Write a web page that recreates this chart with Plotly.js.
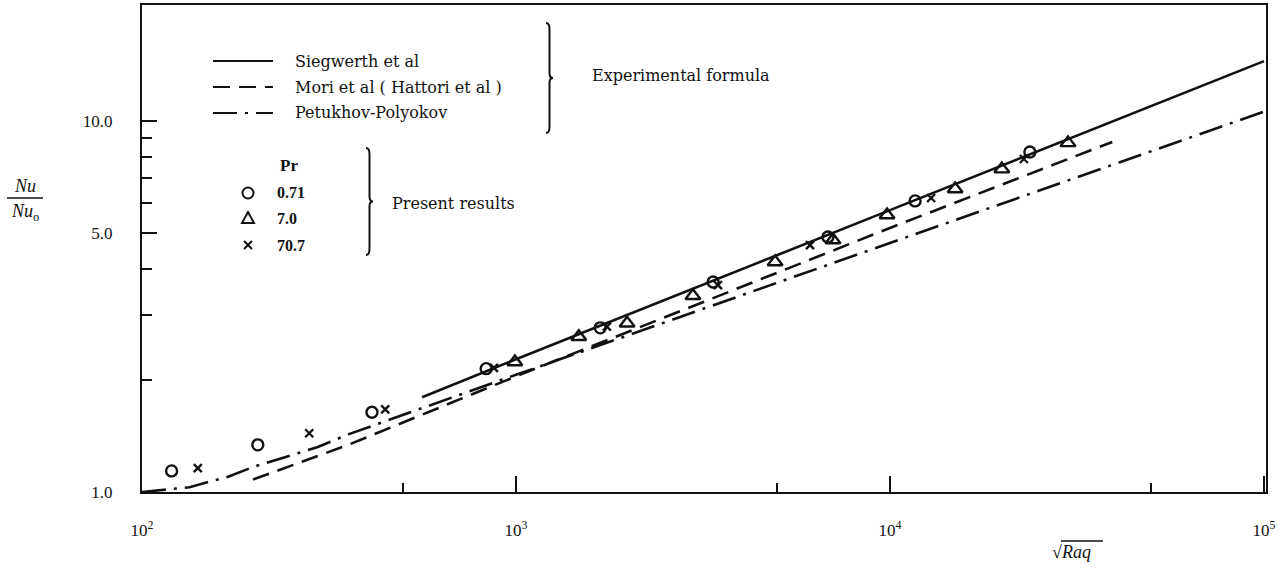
<!DOCTYPE html>
<html>
<head>
<meta charset="utf-8">
<script src="https://cdn.plot.ly/plotly-3.0.1.min.js"></script>
<style>html,body{margin:0;padding:0;background:#fff}#chart{width:1287px;height:568px}</style>
</head>
<body>
<div id="chart"></div>
<script>
// ---- data ----
const siegX = [561, 1000, 10000, 100000];
const siegY = [1.80, 2.28, 5.75, 14.5];
const moriX = [198, 356, 1000, 10000, 39300];
const moriY = [1.08, 1.34, 2.05, 5.15, 8.78];
const petX = [100, 119, 134, 147, 170, 198, 244, 294, 356, 1000, 10000, 100000];
const petY = [1.00, 1.02, 1.03, 1.057, 1.10, 1.168, 1.243, 1.32, 1.43, 2.07, 4.69, 10.6];
const pr071X = [120, 204, 412, 832, 1680, 3366, 6823, 11670, 23660];
const pr071Y = [1.14, 1.34, 1.64, 2.15, 2.77, 3.68, 4.87, 6.09, 8.25];
const pr7X = [993, 1472, 1982, 2972, 4930, 7040, 9820, 14930, 19910, 29920];
const pr7Y = [2.24, 2.62, 2.85, 3.38, 4.17, 4.78, 5.58, 6.56, 7.42, 8.73];
const pr707X = [141, 280, 447, 873, 1750, 3467, 6110, 12880, 22800];
const pr707Y = [1.16, 1.44, 1.67, 2.16, 2.79, 3.61, 4.63, 6.20, 7.90];

const lineNames = ['Siegwerth et al', 'Mori et al ( Hattori et al )', 'Petukhov-Polyokov'];
const prLabels = ['0.71', '7.0', '70.7'];
const xTickVals = [100, 1000, 10000, 100000];
const xTickText = ['10<sup>2</sup>', '10<sup>3</sup>', '10<sup>4</sup>', '10<sup>5</sup>'];
const yTickVals = [1, 5, 10];
const yTickText = ['1.0', '5.0', '10.0'];

// ---- layout helpers (pixel -> paper) ----
const L = 142, R = 1266, T = 5, B = 492;
const px = x => (x - L) / (R - L);
const py = y => (B - y) / (B - T);
const INK = '#111';
const FONT = 'Liberation Serif, Times New Roman, serif';
const LFONT = 'DejaVu Serif, serif';

const traces = [
  {x: siegX, y: siegY, mode: 'lines', line: {color: INK, width: 2.6}, name: lineNames[0]},
  {x: moriX, y: moriY, mode: 'lines', line: {color: INK, width: 2.6, dash: '17px,9px'}, name: lineNames[1]},
  {x: petX, y: petY, mode: 'lines', line: {color: INK, width: 2.6, dash: '24px,8px,3px,8px'}, name: lineNames[2]},
  {x: pr071X, y: pr071Y, mode: 'markers', marker: {symbol: 'circle-open', size: 11, color: INK, line: {width: 2.4, color: INK}}, name: prLabels[0]},
  {x: pr7X, y: pr7Y, mode: 'markers', marker: {symbol: 'triangle-up-open', size: 13, color: INK, line: {width: 2.4, color: INK}}, name: prLabels[1]},
  {x: pr707X, y: pr707Y, mode: 'markers', marker: {symbol: 'x-thin-open', size: 8, color: INK, line: {width: 2.4, color: INK}}, name: prLabels[2]}
];

function bracePath(x0, y0, y1, w) {
  const ym = (y0 + y1) / 2;
  const P = (x, y) => px(x).toFixed(5) + ',' + py(y).toFixed(5);
  return 'M' + P(x0, y0) +
    ' Q' + P(x0 + w, y0) + ' ' + P(x0 + w, y0 + 6) +
    ' L' + P(x0 + w, ym - 5) +
    ' Q' + P(x0 + w, ym) + ' ' + P(x0 + 2 * w, ym) +
    ' Q' + P(x0 + w, ym) + ' ' + P(x0 + w, ym + 5) +
    ' L' + P(x0 + w, y1 - 6) +
    ' Q' + P(x0 + w, y1) + ' ' + P(x0, y1);
}

const shapes = [];
const annotations = [];
const legLineY = [61, 87, 113];
const legDash = ['solid', '17px,9px', '24px,8px,3px,8px'];
for (let i = 0; i < 3; i++) {
  shapes.push({type: 'line', xref: 'paper', yref: 'paper', x0: px(213), x1: px(273), y0: py(legLineY[i]), y1: py(legLineY[i]),
    line: {color: INK, width: 2.2, dash: legDash[i]}});
  annotations.push({xref: 'paper', yref: 'paper', x: px(293), y: py(legLineY[i]), xanchor: 'left', yanchor: 'middle',
    text: lineNames[i], showarrow: false, font: {family: LFONT, size: 16, color: INK}});
}
shapes.push({type: 'path', xref: 'paper', yref: 'paper', path: bracePath(546, 23, 133, 3.5), line: {color: INK, width: 2}});
annotations.push({xref: 'paper', yref: 'paper', x: px(590), y: py(75), xanchor: 'left', yanchor: 'middle',
  text: 'Experimental formula', showarrow: false, font: {family: LFONT, size: 16, color: INK}});

// Pr legend
annotations.push({xref: 'paper', yref: 'paper', x: px(278), y: py(165), xanchor: 'left', yanchor: 'middle',
  text: '<b>Pr</b>', showarrow: false, font: {family: FONT, size: 17, color: INK}});
const prRowY = [193, 218, 245];
for (let i = 0; i < 3; i++) {
  annotations.push({xref: 'paper', yref: 'paper', x: px(275), y: py(prRowY[i]), xanchor: 'left', yanchor: 'middle',
    text: '<b>' + prLabels[i] + '</b>', showarrow: false, font: {family: FONT, size: 16, color: INK}});
}
const sx = 248;
shapes.push({type: 'circle', xref: 'paper', yref: 'paper', x0: px(sx - 5.5), x1: px(sx + 5.5), y0: py(prRowY[0] - 5.5), y1: py(prRowY[0] + 5.5),
  line: {color: INK, width: 2}});
shapes.push({type: 'path', xref: 'paper', yref: 'paper',
  path: 'M' + px(sx - 6) + ',' + py(prRowY[1] + 5) + ' L' + px(sx + 6) + ',' + py(prRowY[1] + 5) + ' L' + px(sx) + ',' + py(prRowY[1] - 6) + ' Z',
  line: {color: INK, width: 2}});
shapes.push({type: 'path', xref: 'paper', yref: 'paper',
  path: 'M' + px(sx - 4) + ',' + py(prRowY[2] - 4) + ' L' + px(sx + 4) + ',' + py(prRowY[2] + 4) +
        ' M' + px(sx - 4) + ',' + py(prRowY[2] + 4) + ' L' + px(sx + 4) + ',' + py(prRowY[2] - 4),
  line: {color: INK, width: 2}});
shapes.push({type: 'path', xref: 'paper', yref: 'paper', path: bracePath(366, 148, 255, 3.5), line: {color: INK, width: 2}});
annotations.push({xref: 'paper', yref: 'paper', x: px(390), y: py(203), xanchor: 'left', yanchor: 'middle',
  text: 'Present results', showarrow: false, font: {family: LFONT, size: 16, color: INK}});

// y-axis title as fraction Nu / Nu0
annotations.push({xref: 'paper', yref: 'paper', x: px(25), y: py(186), xanchor: 'center', yanchor: 'middle',
  text: '<i>Nu</i>', showarrow: false, font: {family: FONT, size: 18, color: INK}});
shapes.push({type: 'line', xref: 'paper', yref: 'paper', x0: px(7), x1: px(43), y0: py(198), y1: py(198), line: {color: INK, width: 1.3}});
annotations.push({xref: 'paper', yref: 'paper', x: px(25), y: py(212), xanchor: 'center', yanchor: 'middle',
  text: '<i>Nu</i><sub>o</sub>', showarrow: false, font: {family: FONT, size: 18, color: INK}});

// x-axis title sqrt(Raq)
annotations.push({xref: 'paper', yref: 'paper', x: px(1050), y: py(552), xanchor: 'left', yanchor: 'middle',
  text: '√<i>Raq</i>', showarrow: false, font: {family: FONT, size: 18, color: INK}});
shapes.push({type: 'line', xref: 'paper', yref: 'paper', x0: px(1061), x1: px(1103), y0: py(541), y1: py(541), line: {color: INK, width: 1.3}});

const layout = {
  width: 1287, height: 568,
  margin: {l: L, r: 1287 - R, t: T, b: 568 - B, pad: 0},
  paper_bgcolor: '#fff', plot_bgcolor: '#fff',
  showlegend: false,
  font: {family: FONT, size: 17, color: INK},
  xaxis: {
    type: 'log', range: [2, 2 + (R - L) / 374], showgrid: false, zeroline: false,
    showline: true, linecolor: INK, linewidth: 2, mirror: true,
    ticks: 'inside', ticklen: 16, tickwidth: 2, tickcolor: INK,
    tickmode: 'array', tickvals: xTickVals, ticktext: xTickText,
    ticklabelstandoff: 22,
    tickfont: {family: FONT, size: 17, color: INK},
    minor: {tickmode: 'array', tickvals: [500, 5000, 50000], ticks: 'inside', ticklen: 9, tickwidth: 2, tickcolor: INK, showgrid: false}
  },
  yaxis: {
    type: 'log', range: [0, (B - T) / 371], showgrid: false, zeroline: false,
    showline: true, linecolor: INK, linewidth: 2, mirror: true,
    ticks: 'inside', ticklen: 15, tickwidth: 2, tickcolor: INK,
    tickmode: 'array', tickvals: yTickVals, ticktext: yTickText,
    ticklabelstandoff: 24,
    tickfont: {family: FONT, size: 17, color: INK},
    minor: {tickmode: 'array', tickvals: [2, 3, 4, 6, 7, 8, 9], ticks: 'inside', ticklen: 10, tickwidth: 2, tickcolor: INK, showgrid: false}
  },
  shapes: shapes,
  annotations: annotations
};

Plotly.newPlot('chart', traces, layout, {staticPlot: true, displayModeBar: false});
</script>
</body>
</html>
